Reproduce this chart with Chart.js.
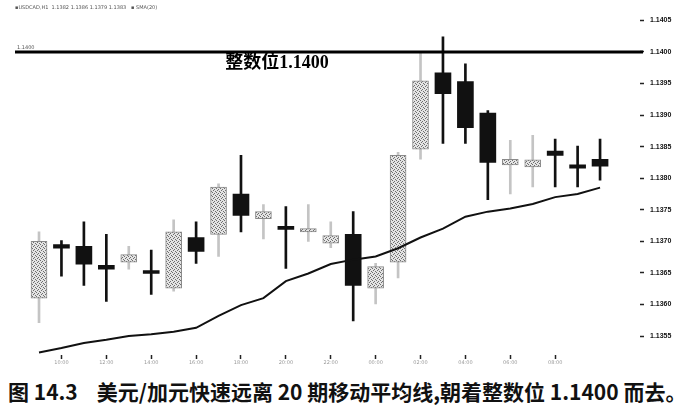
<!DOCTYPE html>
<html>
<head>
<meta charset="utf-8">
<script src="https://cdn.jsdelivr.net/npm/chart.js@4.4.1/dist/chart.umd.min.js"></script>
<style>
  html, body { margin: 0; padding: 0; background: #fff; }
  #wrap { position: relative; width: 693px; height: 370px; }
  #caption {
    width: 693px; height: 39px; box-sizing: border-box; padding-left: 8px;
    font: 600 21px "Noto Sans CJK SC", sans-serif; color: #111;
    line-height: 42px; white-space: nowrap;
  }
</style>
</head>
<body>
<div id="wrap"><canvas id="c"></canvas></div>
<div id="caption">图 14.3&nbsp;&nbsp;&nbsp;&nbsp;美元/加元快速远离 20 期移动平均线,朝着整数位 1.1400 而去。</div>
<script>
// USD/CAD hourly candles
const opens  = [1.13610, 1.13695, 1.13692, 1.13662, 1.13667, 1.13652, 1.13626, 1.13706, 1.13711, 1.13775,
                1.13736, 1.13722, 1.13715, 1.13697, 1.13711, 1.13626, 1.13667, 1.13846, 1.13967, 1.13953,
                1.13903, 1.13821, 1.13818, 1.13843, 1.13821, 1.13830];
const highs  = [1.13715, 1.13701, 1.13731, 1.13711, 1.13692, 1.13686, 1.13734, 1.13731, 1.13791, 1.13836,
                1.13758, 1.13755, 1.13758, 1.13731, 1.13747, 1.13665, 1.13841, 1.13998, 1.14024, 1.13981,
                1.13907, 1.13860, 1.13868, 1.13862, 1.13851, 1.13862];
const lows   = [1.13571, 1.13645, 1.13630, 1.13605, 1.13656, 1.13616, 1.13621, 1.13665, 1.13676, 1.13715,
                1.13704, 1.13657, 1.13700, 1.13690, 1.13574, 1.13601, 1.13642, 1.13830, 1.13855, 1.13855,
                1.13766, 1.13775, 1.13786, 1.13786, 1.13786, 1.13797];
const closes = [1.13700, 1.13689, 1.13664, 1.13656, 1.13679, 1.13649, 1.13715, 1.13684, 1.13786, 1.13741,
                1.13747, 1.13719, 1.13720, 1.13709, 1.13630, 1.13660, 1.13836, 1.13954, 1.13934, 1.13880,
                1.13825, 1.13830, 1.13829, 1.13836, 1.13816, 1.13819];
const sma20  = [1.13524, 1.13531, 1.13539, 1.13544, 1.13550, 1.13553, 1.13557, 1.13563, 1.13582, 1.13599,
                1.13610, 1.13637, 1.13649, 1.13664, 1.13671, 1.13676, 1.13689, 1.13706, 1.13720, 1.13739,
                1.13747, 1.13752, 1.13759, 1.13770, 1.13775, 1.13785];

const yTicks = [1.1355, 1.1360, 1.1365, 1.1370, 1.1375, 1.1380, 1.1385, 1.1390, 1.1395, 1.1400, 1.1405];
const xTickAt = [1, 3, 5, 7, 9, 11, 13, 15, 17, 19, 21, 23];
const xTickLabels = ['10:00', '12:00', '14:00', '16:00', '18:00', '20:00',
                     '22:00', '00:00', '02:00', '04:00', '06:00', '08:00'];
const ROUND_LEVEL = 1.1400;
const ROUND_TEXT = '整数位1.1400';
const ROUND_TEXT_AT = 8.3;   // x index where the note starts
const HEADER = '\u25AAUSDCAD,H1  1.1382 1.1386 1.1379 1.1383   \u25AA SMA(20)';

const idx = opens.map((_, i) => i);
const isUp = i => closes[i] >= opens[i];

// stippled grey fill used for rising candles
const stipple = (() => {
  const p = document.createElement('canvas');
  p.width = 4; p.height = 4;
  const g = p.getContext('2d');
  g.fillStyle = '#e4e4e4'; g.fillRect(0, 0, 4, 4);
  g.fillStyle = '#6e6e6e';
  [[0, 0], [2, 1], [1, 2], [3, 3]].forEach(([x, y]) => g.fillRect(x, y, 1, 1));
  return document.getElementById('c').getContext('2d').createPattern(p, 'repeat');
})();

const overlay = {
  id: 'overlay',
  afterDatasetsDraw(chart) {
    const { ctx, chartArea: a, scales: { x, y } } = chart;
    const yy = y.getPixelForValue(ROUND_LEVEL);
    ctx.save();
    ctx.strokeStyle = '#000'; ctx.lineWidth = 3;
    ctx.beginPath(); ctx.moveTo(a.left, yy); ctx.lineTo(a.right + 3, yy); ctx.stroke();
    ctx.fillStyle = '#000';
    ctx.font = '700 18px "Liberation Serif", "Noto Sans CJK SC", serif';
    ctx.textBaseline = 'top';
    ctx.fillText(ROUND_TEXT, x.getPixelForValue(ROUND_TEXT_AT), yy + 2);
    ctx.font = '5px "DejaVu Sans"';
    ctx.fillStyle = '#555';
    ctx.textBaseline = 'bottom';
    ctx.fillText(ROUND_LEVEL.toFixed(4), a.left + 2, yy - 2);
    ctx.textBaseline = 'middle';
    ctx.fillText(HEADER, a.left, 8);
    ctx.restore();
  }
};

new Chart(document.getElementById('c'), {
  data: {
    datasets: [
      {
        type: 'line', label: 'SMA(20)', order: 0,
        data: idx.map(i => ({ x: i, y: sma20[i] })),
        borderColor: '#111', borderWidth: 2, pointRadius: 0, tension: 0
      },
      {
        type: 'bar', label: 'body', order: 1, grouped: false,
        data: idx.map(i => ({ x: i, y: [Math.min(opens[i], closes[i]), Math.max(opens[i], closes[i])] })),
        barThickness: 16, minBarLength: 3, borderSkipped: false,
        backgroundColor: c => isUp(c.dataIndex) ? stipple : '#111',
        borderColor: c => isUp(c.dataIndex) ? '#8a8a8a' : '#111',
        borderWidth: c => isUp(c.dataIndex) ? 1 : 0
      },
      {
        type: 'bar', label: 'wick', order: 2, grouped: false,
        data: idx.map(i => ({ x: i, y: [lows[i], highs[i]] })),
        barThickness: c => isUp(c.dataIndex) ? 1 : 2,
        backgroundColor: c => isUp(c.dataIndex) ? '#c4c4c4' : '#111'
      }
    ]
  },
  options: {
    responsive: true, maintainAspectRatio: false, animation: false,
    layout: { padding: { left: 15, top: 5, right: 0, bottom: 0 } },
    plugins: { legend: { display: false }, tooltip: { enabled: false } },
    scales: {
      x: {
        type: 'linear', position: 'bottom', min: -1.07, max: 26.78, offset: false,
        afterBuildTicks: s => { s.ticks = xTickAt.map(v => ({ value: v })); },
        afterFit: s => { s.height = 15; },
        grid: { drawOnChartArea: false, offset: false, tickLength: 4, tickColor: '#222', tickWidth: 1.5 },
        border: { display: false },
        ticks: {
          autoSkip: false, maxRotation: 0, padding: 1, color: '#999',
          font: { size: 5, family: 'DejaVu Sans' },
          callback: (v, i) => xTickLabels[i]
        }
      },
      y: {
        type: 'linear', position: 'right', min: 1.13520, max: 1.14066,
        afterBuildTicks: s => { s.ticks = yTicks.map(v => ({ value: v })); },
        afterFit: s => { s.width = 53; },
        grid: { drawOnChartArea: false, tickLength: 4, tickColor: '#222', tickWidth: 1.5 },
        border: { display: false },
        ticks: {
          padding: 6, color: '#111',
          font: { size: 7, weight: 'bold', family: 'Liberation Sans' },
          callback: v => v.toFixed(4)
        }
      }
    }
  },
  plugins: [overlay]
});
</script>
</body>
</html>
